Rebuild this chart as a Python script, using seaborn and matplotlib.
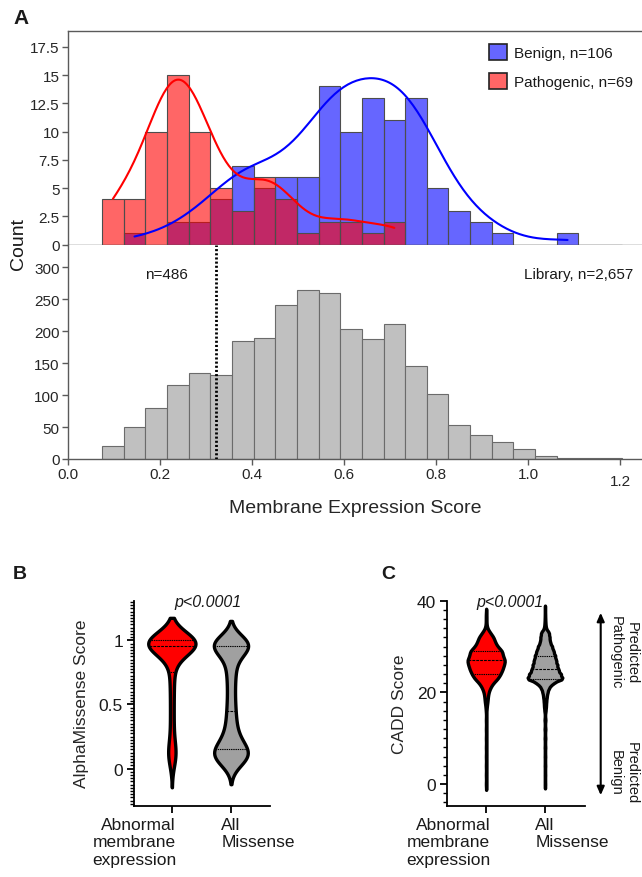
import numpy as np
import pandas as pd
import matplotlib
matplotlib.use("Agg")
import matplotlib.pyplot as plt
import seaborn as sns
from matplotlib.ticker import MultipleLocator, FuncFormatter
from matplotlib.transforms import ScaledTranslation
from matplotlib.patches import Patch, FancyArrowPatch

# ---------------- data ----------------
BIN_START = 0.074
BIN_WIDTH = 0.04707

benign_counts = [0, 1, 0, 2, 2, 4, 7, 5, 6, 6, 14, 10, 13, 11, 13, 5, 3, 2, 1, 0, 0, 1]
pathogenic_counts = [4, 4, 10, 15, 10, 5, 3, 6, 4, 1, 2, 2, 1, 2]
library_counts = [20, 50, 80, 116, 134, 131, 185, 189, 240, 264, 259, 203,
                  188, 211, 145, 102, 53, 37, 26, 15, 4, 2, 1, 1]
threshold = 0.322

hist_labels = ["Benign, n=106", "Pathogenic, n=69"]
x_ticks = [0.0, 0.2, 0.4, 0.6, 0.8, 1.0, 1.2]

am_levels = [0.03, 0.06, 0.09, 0.12, 0.15, 0.2, 0.25, 0.3, 0.35, 0.4, 0.45, 0.5,
             0.55, 0.6, 0.65, 0.7, 0.75, 0.8, 0.85, 0.9, 0.93, 0.96, 0.98, 1.0]
am_abnormal = [4, 8, 12, 13, 11, 8, 6, 6, 6, 6, 6, 6, 6, 6, 7, 7, 8, 9, 10, 14, 22, 85, 95, 125]
am_all = [60, 150, 200, 210, 180, 160, 100, 80, 70, 65, 60, 55, 50, 50, 50, 55, 60,
          65, 75, 90, 100, 280, 250, 142]

cadd_levels = [0, 2, 4, 6, 8, 10, 12, 14, 16, 17, 18, 19, 20, 21, 22, 23, 24, 25, 26,
               27, 28, 29, 30, 31, 32, 33, 34, 35, 36, 37, 38]
cadd_abnormal = [1, 1, 1, 1, 1, 1, 1, 1, 1, 2, 4, 5, 7, 12, 20, 34, 42, 48, 52, 56,
                 48, 48, 33, 26, 22, 12, 3, 1, 1, 1, 0]
cadd_all = [5, 5, 6, 6, 7, 8, 9, 10, 12, 20, 25, 35, 50, 80, 160, 360, 310, 265, 242,
            220, 200, 170, 140, 100, 90, 80, 20, 10, 6, 4, 2]

group_labels = ["Abnormal\nmembrane\nexpression", "All\nMissense"]

# ---------------- style ----------------
W, H = 642, 878
sns.set_style("ticks")
plt.rcParams["font.family"] = ["Liberation Sans", "DejaVu Sans"]
plt.rcParams["text.color"] = "#1a1a1a"

fig = plt.figure(figsize=(W / 100, H / 100), dpi=100)


def fx(px):
    return px / W


def fy(py):
    return 1 - py / H


def rect(l, t, r, b):
    return [fx(l), fy(b), (r - l) / W, (b - t) / H]


# ---------------- panel A ----------------
ax_top = fig.add_axes(rect(68, 32, 642, 245.7))
ax_bot = fig.add_axes(rect(68, 245.7, 642, 460), sharex=ax_top)

n_bins = len(library_counts)
edges = BIN_START + BIN_WIDTH * np.arange(n_bins + 1)
centers = (edges[:-1] + edges[1:]) / 2
edge_list = [float(e) for e in edges]


def weighted(counts):
    c = np.asarray(counts, float)
    x = centers[:len(c)]
    m = c > 0
    return pd.DataFrame({"score": x[m], "count": c[m]})


df_benign = weighted(benign_counts)
df_path = weighted(pathogenic_counts)
df_lib = weighted(library_counts)

TOP_YMAX = 18.9
KDE_GAIN = 1.28   # reference curve height relative to a count-scaled density

for df, col in ((df_benign, "#0000ff"), (df_path, "#ff0000")):
    sns.histplot(data=df, x="score", weights="count", bins=edge_list, color=col,
                 alpha=0.6, edgecolor="#4d4d4d", linewidth=0.8, ax=ax_top)

for df, col, bwa in ((df_benign, "#0000ff", 0.6), (df_path, "#ff0000", 0.45)):
    # density curve on a hidden twin axis whose scale equals counts per bin
    ax_k = ax_top.twinx()
    sns.kdeplot(data=df, x="score", weights="count", color=col, bw_adjust=bwa, cut=0,
                linewidth=1.5, ax=ax_k)
    scale = df["count"].sum() * BIN_WIDTH * KDE_GAIN
    ax_k.set_ylim(0, TOP_YMAX / scale)
    ax_k.set_axis_off()

sns.histplot(data=df_lib, x="score", weights="count", bins=edge_list, color="#c0c0c0",
             alpha=1, edgecolor="#6b6b6b", linewidth=0.8, ax=ax_bot)

spine_col = "#5a5a5a"
ax_top.set_xlim(0, (642 - 68) / 460)
ax_top.set_ylim(0, TOP_YMAX)
ax_top.set_yticks(np.arange(0, 17.6, 2.5))
ax_top.yaxis.set_major_formatter(FuncFormatter(lambda v, p: f"{v:g}"))
ax_top.set_xlabel("")
ax_top.set_ylabel("")
for s in ["top", "left", "bottom"]:
    ax_top.spines[s].set_visible(True)
    ax_top.spines[s].set_color(spine_col)
    ax_top.spines[s].set_linewidth(1.0)
ax_top.spines["right"].set_visible(False)

ax_bot.set_ylim(0, 335)
ax_bot.set_yticks(np.arange(0, 301, 50))
ax_bot.set_xticks(x_ticks)
ax_bot.set_xticklabels([f"{v:.1f}" for v in x_ticks])
for s in ["top", "right"]:
    ax_bot.spines[s].set_visible(False)
for s in ["left", "bottom"]:
    ax_bot.spines[s].set_color(spine_col)
    ax_bot.spines[s].set_linewidth(1.0)
ax_bot.set_ylabel("")
ax_bot.set_xlabel("Membrane Expression Score", fontsize=14, labelpad=8)

for a in (ax_top, ax_bot):
    a.tick_params(axis="both", labelsize=11, length=4, width=1.0, color=spine_col,
                  pad=2, labelcolor="#262626")
ax_top.tick_params(axis="x", bottom=False, labelbottom=False)
ax_bot.xaxis.get_major_ticks()[-1].set_pad(7)

ax_bot.axvline(threshold, color="black", lw=2, linestyle=(0, (0.75, 0.75)), zorder=6)

fig.text(fx(18), fy(244), "Count", rotation=90, ha="center", va="center", fontsize=14)
fig.text(fx(166), fy(275), "n=486", ha="center", va="center", fontsize=11)
fig.text(fx(633), fy(275), "Library, n=2,657", ha="right", va="center", fontsize=11)

handles = [Patch(facecolor=(0.4, 0.4, 1.0), edgecolor="#222222", linewidth=1.2),
           Patch(facecolor=(1.0, 0.4, 0.4), edgecolor="#222222", linewidth=1.2)]
fig.legend(handles, hist_labels, loc="upper left", bbox_to_anchor=(fx(489), fy(45)),
           bbox_transform=fig.transFigure, frameon=False, fontsize=11,
           handlelength=1.2, handleheight=1.2, handletextpad=0.45,
           labelspacing=0.85, borderpad=0, borderaxespad=0)

fig.text(fx(21), fy(19), "A", fontsize=15, fontweight="bold", ha="center", va="center")
fig.text(fx(20), fy(575), "B", fontsize=14, fontweight="bold", ha="center", va="center")
fig.text(fx(388), fy(575), "C", fontsize=14, fontweight="bold", ha="center", va="center")

# ---------------- panels B & C ----------------
ax_b = fig.add_axes(rect(134, 601.7, 270, 806.7))
ax_c = fig.add_axes(rect(447.3, 601.7, 585, 806.7))


def violin(ax, levels, counts, idx, color, width, bw_adjust=1.0):
    df = pd.DataFrame({"group": group_labels[idx],
                       "score": np.repeat(levels, counts)})
    sns.violinplot(data=df, x="group", y="score", order=group_labels, color=color,
                   saturation=1, width=width, density_norm="width", inner="quart",
                   linewidth=2.4, linecolor="black", bw_adjust=bw_adjust,
                   inner_kws=dict(linewidth=0.8, color="black"), ax=ax)


violin(ax_b, am_levels, am_abnormal, 0, "#ff0000", 0.80)
violin(ax_b, am_levels, am_all, 1, "#a0a0a0", 0.58)
violin(ax_c, cadd_levels, cadd_abnormal, 0, "#ff0000", 0.63, 0.5)
violin(ax_c, cadd_levels, cadd_all, 1, "#a0a0a0", 0.59, 0.5)

ax_b.set_ylim(-0.29, 1.31)
ax_b.set_xlim(-0.64, 1.66)
ax_b.set_yticks([0, 0.5, 1])
ax_b.set_yticklabels(["0", "0.5", "1"])
ax_b.yaxis.set_minor_locator(MultipleLocator(0.025))
ax_b.set_ylabel("AlphaMissense Score", fontsize=12.5, labelpad=7)

ax_c.set_ylim(-4.7, 40)
ax_c.set_xlim(-0.66, 1.68)
ax_c.set_yticks([0, 20, 40])
ax_c.yaxis.set_minor_locator(MultipleLocator(2))
ax_c.set_ylabel("CADD Score", fontsize=12.5, labelpad=7)

for a in (ax_b, ax_c):
    a.set_xlabel("")
    for s in ["top", "right"]:
        a.spines[s].set_visible(False)
    for s in ["left", "bottom"]:
        a.spines[s].set_color("black")
        a.spines[s].set_linewidth(1.3)
    a.tick_params(axis="both", which="major", labelsize=12.5, length=5, width=1.3,
                  color="black", pad=3, labelcolor="#1a1a1a")
    a.tick_params(axis="y", which="minor", length=3, width=1.0, color="black")
    a.set_xticks([0, 1])
    a.set_xticklabels(group_labels)
    labs = a.get_xticklabels()
    labs[0].set_ha("right")
    labs[0].set_multialignment("right")
    labs[0].set_transform(labs[0].get_transform() +
                          ScaledTranslation(3 / 72, 0, fig.dpi_scale_trans))
    labs[1].set_ha("left")
    labs[1].set_multialignment("left")
    labs[1].set_transform(labs[1].get_transform() +
                          ScaledTranslation(-7 / 72, 0, fig.dpi_scale_trans))

fig.text(fx(208), fy(603), "p<0.0001", style="italic", fontsize=11.5, ha="center", va="center")
fig.text(fx(509.5), fy(603), "p<0.0001", style="italic", fontsize=11.5, ha="center", va="center")

fig.text(fx(624), fy(653), "Predicted\nPathogenic", rotation=270, ha="center", va="center",
         fontsize=10.5, multialignment="center")
fig.text(fx(624), fy(773), "Predicted\nBenign", rotation=270, ha="center", va="center",
         fontsize=10.5, multialignment="center")
fig.add_artist(FancyArrowPatch((fx(600.7), fy(611)), (fx(600.7), fy(799)),
                               transform=fig.transFigure,
                               arrowstyle="<|-|>,head_length=0.5,head_width=0.22",
                               mutation_scale=10, lw=1.5, color="black"))

fig.savefig("out.png", dpi=100)
